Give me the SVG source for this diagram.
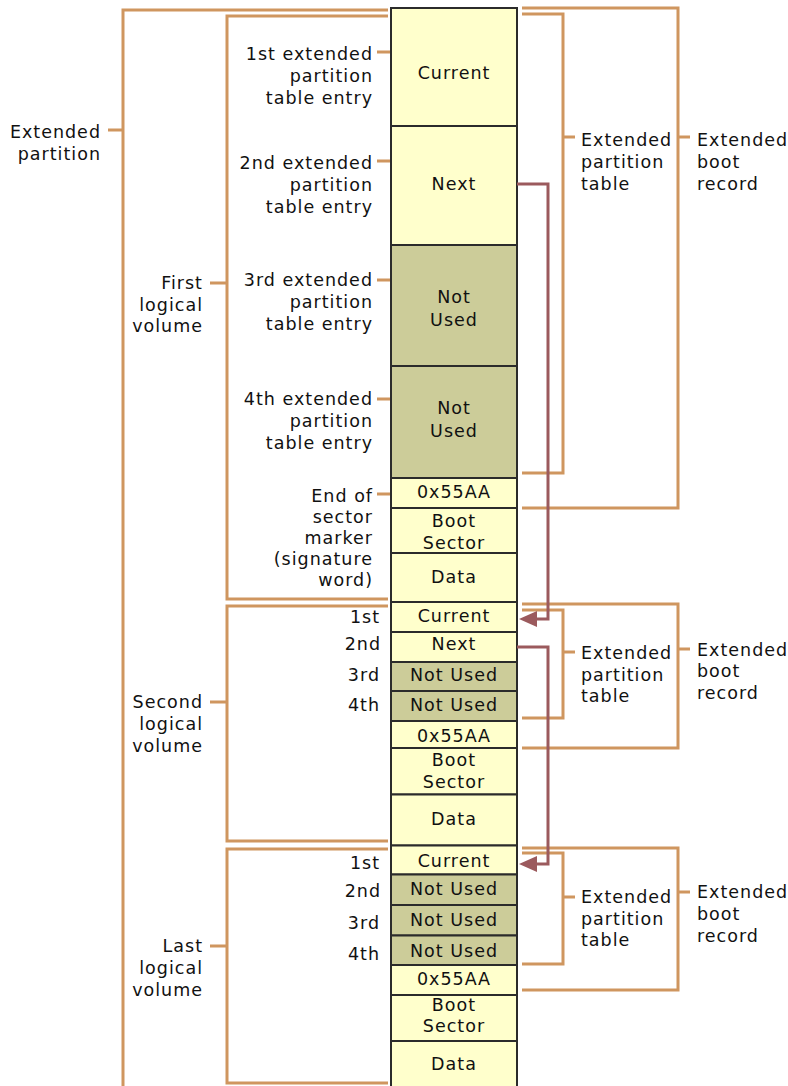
<svg xmlns="http://www.w3.org/2000/svg" width="788" height="1086" viewBox="0 0 788 1086">
<style>
text{font-family:"DejaVu Sans","Verdana",sans-serif;font-size:17.5px;letter-spacing:1px;fill:#111}
.c{text-anchor:middle}
.e{text-anchor:end}
.y{fill:#FFFFCC;stroke:#2b2b2b;stroke-width:2}
.o{fill:#CCCC99;stroke:#2b2b2b;stroke-width:2}
.b{fill:none;stroke:#CF965F;stroke-width:3}
.a{fill:none;stroke:#9B5A5D;stroke-width:3}
.h{fill:#9B5A5D}
</style>
<rect width="788" height="1086" fill="#fff"/>
<g id="brackets">
<path class="b" d="M388,10 H123 V1090 M108,130 H123"/>
<path class="b" d="M388,16 H227 V599 H388 M210,283 H227"/>
<path class="b" d="M388,606 H227 V841 H388 M210,702 H227"/>
<path class="b" d="M388,849 H227 V1083 H388 M210,946 H227"/>
<path class="b" d="M377,52 H391 M377,161 H391 M377,280 H391 M377,399 H391 M377,494 H391"/>
<path class="b" d="M522,8 H678 V508 H522 M678,137 H690"/>
<path class="b" d="M522,14 H563 V473 H522 M563,137 H575"/>
<path class="b" d="M522,604 H678 V748 H522 M678,649 H690"/>
<path class="b" d="M522,610 H563 V718 H522 M563,652 H575"/>
<path class="b" d="M522,848 H678 V990 H522 M678,892 H690"/>
<path class="b" d="M522,853 H563 V964 H522 M563,897 H575"/>
</g>
<g id="cell-current-1"><rect class="y" x="391" y="8" width="126" height="118"/><text class="c" x="454" y="79">Current</text></g>
<g id="cell-next-1"><rect class="y" x="391" y="126" width="126" height="119"/><text class="c" x="454" y="190">Next</text></g>
<g id="cell-notused-1a"><rect class="o" x="391" y="245" width="126" height="121"/><text class="c" x="454" y="303">Not</text><text class="c" x="454" y="325.5">Used</text></g>
<g id="cell-notused-1b"><rect class="o" x="391" y="366" width="126" height="112"/><text class="c" x="454" y="414">Not</text><text class="c" x="454" y="436.5">Used</text></g>
<g id="cell-sig-1"><rect class="y" x="391" y="478" width="126" height="30"/><text class="c" x="454" y="497.5">0x55AA</text></g>
<g id="cell-boot-1"><rect class="y" x="391" y="508" width="126" height="45"/><text class="c" x="454" y="527">Boot</text><text class="c" x="454" y="548.5">Sector</text></g>
<g id="cell-data-1"><rect class="y" x="391" y="553" width="126" height="49"/><text class="c" x="454" y="582.5">Data</text></g>
<g id="cell-current-2"><rect class="y" x="391" y="602" width="126" height="30"/><text class="c" x="454" y="622">Current</text></g>
<g id="cell-next-2"><rect class="y" x="391" y="632" width="126" height="30"/><text class="c" x="454" y="650">Next</text></g>
<g id="cell-notused-2a"><rect class="o" x="391" y="662" width="126" height="29"/><text class="c" x="454" y="681">Not Used</text></g>
<g id="cell-notused-2b"><rect class="o" x="391" y="691" width="126" height="30"/><text class="c" x="454" y="711">Not Used</text></g>
<g id="cell-sig-2"><rect class="y" x="391" y="721" width="126" height="27"/><text class="c" x="454" y="741.5">0x55AA</text></g>
<g id="cell-boot-2"><rect class="y" x="391" y="748" width="126" height="46.5"/><text class="c" x="454" y="766">Boot</text><text class="c" x="454" y="788">Sector</text></g>
<g id="cell-data-2"><rect class="y" x="391" y="794.5" width="126" height="51"/><text class="c" x="454" y="825">Data</text></g>
<g id="cell-current-3"><rect class="y" x="391" y="845.5" width="126" height="29"/><text class="c" x="454" y="866.5">Current</text></g>
<g id="cell-notused-3a"><rect class="o" x="391" y="874.5" width="126" height="30.5"/><text class="c" x="454" y="895">Not Used</text></g>
<g id="cell-notused-3b"><rect class="o" x="391" y="905" width="126" height="30.5"/><text class="c" x="454" y="926">Not Used</text></g>
<g id="cell-notused-3c"><rect class="o" x="391" y="935.5" width="126" height="29.5"/><text class="c" x="454" y="957">Not Used</text></g>
<g id="cell-sig-3"><rect class="y" x="391" y="965" width="126" height="30"/><text class="c" x="454" y="984.5">0x55AA</text></g>
<g id="cell-boot-3"><rect class="y" x="391" y="995" width="126" height="46"/><text class="c" x="454" y="1010.5">Boot</text><text class="c" x="454" y="1031.5">Sector</text></g>
<g id="cell-data-3"><rect class="y" x="391" y="1041" width="126" height="50"/><text class="c" x="454" y="1070">Data</text></g>
<g id="label-extended-partition"><text class="e" x="101" y="138">Extended</text><text class="e" x="101" y="160">partition</text></g>
<g id="label-first-lv"><text class="e" x="203" y="289">First</text><text class="e" x="203" y="311">logical</text><text class="e" x="203" y="332">volume</text></g>
<g id="label-second-lv"><text class="e" x="203" y="708">Second</text><text class="e" x="203" y="730">logical</text><text class="e" x="203" y="752">volume</text></g>
<g id="label-last-lv"><text class="e" x="203" y="952">Last</text><text class="e" x="203" y="974">logical</text><text class="e" x="203" y="996">volume</text></g>
<g id="label-entry1"><text class="e" x="373" y="60">1st extended</text><text class="e" x="373" y="82">partition</text><text class="e" x="373" y="104">table entry</text></g>
<g id="label-entry2"><text class="e" x="373" y="169">2nd extended</text><text class="e" x="373" y="191">partition</text><text class="e" x="373" y="213">table entry</text></g>
<g id="label-entry3"><text class="e" x="373" y="286">3rd extended</text><text class="e" x="373" y="308">partition</text><text class="e" x="373" y="330">table entry</text></g>
<g id="label-entry4"><text class="e" x="373" y="405">4th extended</text><text class="e" x="373" y="427">partition</text><text class="e" x="373" y="449">table entry</text></g>
<g id="label-eos"><text class="e" x="373" y="502">End of</text><text class="e" x="373" y="523">sector</text><text class="e" x="373" y="544">marker</text><text class="e" x="373" y="565">(signature</text><text class="e" x="373" y="586">word)</text></g>
<g id="label-ord-2"><text class="e" x="380" y="623">1st</text><text class="e" x="381" y="650">2nd</text><text class="e" x="380" y="681">3rd</text><text class="e" x="380" y="711">4th</text></g>
<g id="label-ord-3"><text class="e" x="380" y="869">1st</text><text class="e" x="381" y="897">2nd</text><text class="e" x="380" y="929">3rd</text><text class="e" x="380" y="960">4th</text></g>
<g id="label-ept-1"><text x="581" y="146">Extended</text><text x="581" y="168">partition</text><text x="581" y="190">table</text></g>
<g id="label-ebr-1"><text x="697" y="146">Extended</text><text x="697" y="168">boot</text><text x="697" y="190">record</text></g>
<g id="label-ept-2"><text x="581" y="659">Extended</text><text x="581" y="681">partition</text><text x="581" y="702">table</text></g>
<g id="label-ebr-2"><text x="697" y="656">Extended</text><text x="697" y="677">boot</text><text x="697" y="699">record</text></g>
<g id="label-ept-3"><text x="581" y="903">Extended</text><text x="581" y="925">partition</text><text x="581" y="946">table</text></g>
<g id="label-ebr-3"><text x="697" y="898">Extended</text><text x="697" y="920">boot</text><text x="697" y="942">record</text></g>
<g id="connectors">
<path class="a" d="M517,184 H548 V619 H535"/>
<polygon class="h" points="519,619 537,611 537,627"/>
<path class="a" d="M517,647 H548 V864 H535"/>
<polygon class="h" points="519,864 537,856 537,872"/>
</g>
</svg>
